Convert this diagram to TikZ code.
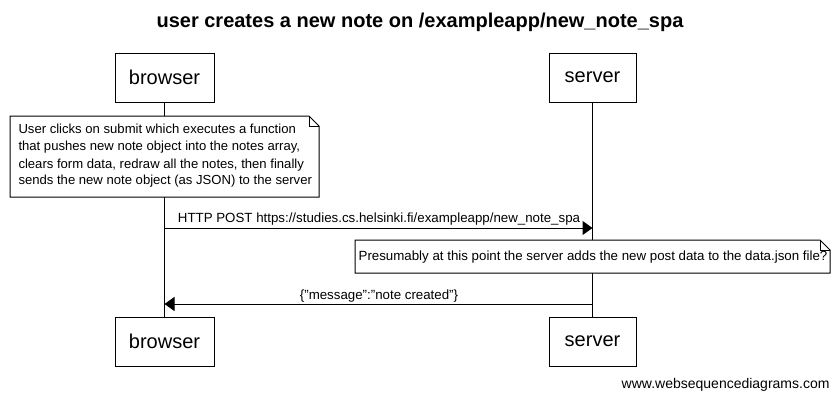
\documentclass[tikz,border=0pt]{standalone}
\usepackage{fontspec}
\setmainfont{Liberation Sans}
\usetikzlibrary{arrows.meta}
\begin{document}
\begin{tikzpicture}[x=1pt,y=-1pt,line width=1pt,
  actor/.style={draw,fill=white,minimum width=99pt,minimum height=49pt,inner sep=0pt,font=\fontsize{20}{22}\selectfont},
  msg/.style={-{Triangle[length=10pt,width=14pt]}},
  lbl/.style={font=\fontsize{13.3}{15}\selectfont,inner sep=0pt},
  notetext/.style={font=\fontsize{13.1}{17}\selectfont,align=left,inner sep=0pt,anchor=north west}]
\useasboundingbox (0,0) rectangle (840,400);
\node[font=\bfseries\fontsize{20}{22}\selectfont] (title) at (420,22) {user creates a new note on /exampleapp/new\_note\_spa};
% actors
\node[actor] (bt) at (164.5,77.5) {browser};
\node[actor,minimum width=87pt] (st) at (592.5,77.5) {server};
\node[actor] (bb) at (164.5,341.5) {browser};
\node[actor,minimum width=87pt] (sb) at (592.5,341.5) {server};
\draw (bt.south) -- (bb.north);
\draw (st.south) -- (sb.north);
% note 1
\draw[fill=white] (10,116) -- (309,116) -- (319,126) -- (319,197) -- (10,197) -- cycle;
\draw (309,116) -- (309,126) -- (319,126);
\node[notetext] (n1) at (18,124) {User clicks on submit which executes a function\\that pushes new note object into the notes array,\\clears form data, redraw all the notes, then finally\\sends the new note object (as JSON) to the server};
% message 1
\coordinate (m1a) at (bt.south |- 0,228);
\coordinate (m1b) at (st.south |- 0,228);
\draw[msg] (m1a) -- (m1b);
\node[lbl] (l1) at (379,219) {HTTP POST https://studies.cs.helsinki.fi/exampleapp/new\_note\_spa};
% note 2
\draw[fill=white] (355,240) -- (820,240) -- (830,250) -- (830,273) -- (355,273) -- cycle;
\draw (820,240) -- (820,250) -- (830,250);
\node[lbl] (n2) at (593,257) {Presumably at this point the server adds the new post data to the data.json file?};
% message 2
\coordinate (m2a) at (st.south |- 0,304);
\coordinate (m2b) at (bt.south |- 0,304);
\draw[msg] (m2a) -- (m2b);
\node[lbl] (l2) at (379,296) {\{"message":"note created"\}};
\node[lbl,anchor=east,font=\fontsize{14}{16}\selectfont] (wm) at (830,385) {www.websequencediagrams.com};
\end{tikzpicture}
\end{document}
